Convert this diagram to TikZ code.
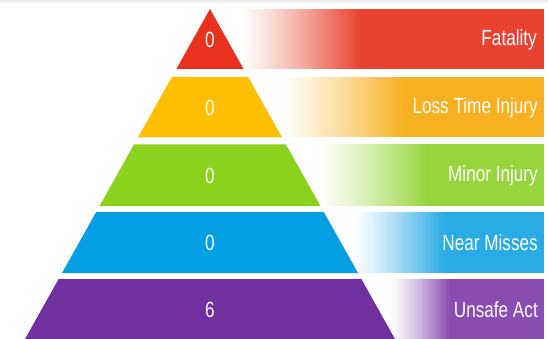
\documentclass[tikz,border=0pt]{standalone}
\usepackage{fontspec}
\setmainfont{Liberation Sans}[FakeStretch=0.78]
\begin{document}
\begin{tikzpicture}[x=1pt,y=-1pt,
  lbl/.style={text=white,font=\fontsize{22}{24}\selectfont,inner sep=0pt,anchor=east},
  num/.style={text=white,font=\fontsize{22}{24}\selectfont,inner sep=0pt}]
\definecolor{cRedT}{HTML}{E8321F}
\definecolor{cRedB}{HTML}{E9432F}
\definecolor{cYelT}{HTML}{FDBF00}
\definecolor{cYelB}{HTML}{F7B020}
\definecolor{cGrnT}{HTML}{8BD21F}
\definecolor{cGrnB}{HTML}{96D53C}
\definecolor{cBluT}{HTML}{049FE3}
\definecolor{cBluB}{HTML}{29ABE6}
\definecolor{cPurT}{HTML}{7030A0}
\definecolor{cPurB}{HTML}{8A4CB2}
\useasboundingbox (0,0) rectangle (548,339);
\fill[white] (0,0) rectangle (548,339);
\shade[top color=black!8,bottom color=white] (0,0) rectangle (548,4);
% bars: start, full, top, bottom, colour
\foreach \s/\f/\t/\b/\c in {240/360/9/69/cRedB, 278/405/77/137.5/cYelB, 316/428/144.5/206/cGrnB, 352/445/212/273/cBluB, 390/450/279/339/cPurB}{
  \fill[\c] (\f,\t) rectangle (544,\b);
  \foreach \i in {0,...,39}{
    \pgfmathsetmacro{\p}{100*((\i+0.5)/40)^1.2}
    \pgfmathsetmacro{\xa}{\s+(\f-\s)*\i/40}
    \pgfmathsetmacro{\xb}{\s+(\f-\s)*(\i+1)/40+0.4}
    \fill[\c!\p!white] (\xa,\t) rectangle (\xb,\b);
  }
}
% pyramid layers (apex 210,9; slope 0.5606)
\fill[cRedT] (210,9) -- ({210+0.5606*60},69) -- ({210-0.5606*60},69) -- cycle;
\foreach \t/\b/\c in {77/137.5/cYelT, 144.5/206/cGrnT, 212/273/cBluT, 279/339/cPurT}{
  \fill[\c] ({210-0.5606*(\t-9)},\t) -- ({210+0.5606*(\t-9)},\t) -- ({210+0.5606*(\b-9)},\b) -- ({210-0.5606*(\b-9)},\b) -- cycle;
}
\node[num] (n1) at (210,40) {0};
\node[num] (n2) at (210,108) {0};
\node[num] (n3) at (210,176) {0};
\node[num] (n4) at (210,243) {0};
\node[num] (n5) at (210,310) {6};
\node[lbl] (l1) at (537,40) {Fatality};
\node[lbl] (l2) at (538,108) {Loss Time Injury};
\node[lbl] (l3) at (538,176) {Minor Injury};
\node[lbl] (l4) at (538,243) {Near Misses};
\node[lbl] (l5) at (538,310) {Unsafe Act};
\end{tikzpicture}
\end{document}
